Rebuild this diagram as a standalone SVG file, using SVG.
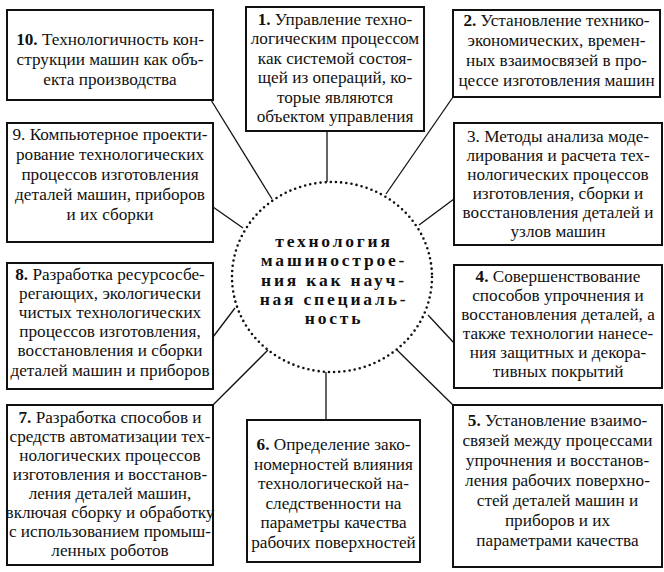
<svg xmlns="http://www.w3.org/2000/svg" width="664" height="572" viewBox="0 0 664 572">
<style>
.box{fill:#fff;stroke:#111;stroke-width:2}
.t{font-family:"Liberation Serif","Times New Roman",serif;font-size:17.2px;fill:#111;text-anchor:middle}
.b{font-weight:bold}
.c{font-family:"Liberation Serif","Times New Roman",serif;font-size:17.5px;font-weight:bold;letter-spacing:2.8px;fill:#111;text-anchor:middle}
.ln{stroke:#111;stroke-width:1.3;fill:none}
.dot{fill:#fff;stroke:#111;stroke-width:2.6;stroke-linecap:round;stroke-dasharray:0 5.2}
</style>
<rect width="664" height="572" fill="#fff"/>
<g id="connectors">
<line class="ln" x1="211" y1="100" x2="272" y2="199"/>
<line class="ln" x1="327" y1="131" x2="327" y2="182"/>
<line class="ln" x1="453" y1="97" x2="386" y2="194"/>
<line class="ln" x1="213" y1="207" x2="243" y2="228"/>
<line class="ln" x1="454" y1="199" x2="419" y2="225"/>
<line class="ln" x1="213" y1="337" x2="235" y2="308"/>
<line class="ln" x1="454" y1="343" x2="428" y2="315"/>
<line class="ln" x1="213" y1="405" x2="268" y2="350"/>
<line class="ln" x1="326" y1="372" x2="326" y2="420"/>
<line class="ln" x1="453" y1="405" x2="397" y2="350"/>
</g>
<g id="center">
<ellipse class="dot" cx="332" cy="277" rx="100" ry="95"/>
<text class="c" x="334" y="247">технология</text>
<text class="c" x="334" y="266">машинострое-</text>
<text class="c" x="334" y="286">ния как науч-</text>
<text class="c" x="334" y="305">ная специаль-</text>
<text class="c" x="334" y="324">ность</text>
</g>
<g id="n10">
<rect class="box" x="7" y="10" width="206" height="90"/>
<text class="t" x="110" y="45"><tspan class="b">10.</tspan> Технологичность кон-</text>
<text class="t" x="110" y="65">струкции машин как объ-</text>
<text class="t" x="110" y="85">екта производства</text>
</g>
<g id="n1">
<rect class="box" x="246" y="7" width="178" height="124"/>
<text class="t" x="335" y="25"><tspan class="b">1.</tspan> Управление техно-</text>
<text class="t" x="335" y="44.4">логическим процессом</text>
<text class="t" x="335" y="63.8">как системой состоя-</text>
<text class="t" x="335" y="83.2">щей из операций, ко-</text>
<text class="t" x="335" y="102.6">торые являются</text>
<text class="t" x="335" y="122">объектом управления</text>
</g>
<g id="n2">
<rect class="box" x="453" y="10" width="207" height="87"/>
<text class="t" x="556.5" y="26"><tspan class="b">2.</tspan> Установление технико-</text>
<text class="t" x="556.5" y="46">экономических, времен-</text>
<text class="t" x="556.5" y="66">ных взаимосвязей в про-</text>
<text class="t" x="556.5" y="86">цессе изготовления машин</text>
</g>
<g id="n9">
<rect class="box" x="7" y="123" width="206" height="119"/>
<text class="t" x="110" y="140">9. Компьютерное проекти-</text>
<text class="t" x="110" y="160">рование технологических</text>
<text class="t" x="110" y="180">процессов изготовления</text>
<text class="t" x="110" y="200">деталей машин, приборов</text>
<text class="t" x="110" y="220">и их сборки</text>
</g>
<g id="n3">
<rect class="box" x="454" y="123" width="208" height="122"/>
<text class="t" x="558" y="142">3. Методы анализа моде-</text>
<text class="t" x="558" y="161">лирования и расчета тех-</text>
<text class="t" x="558" y="180">нологических процессов</text>
<text class="t" x="558" y="199">изготовления, сборки и</text>
<text class="t" x="558" y="218">восстановления деталей и</text>
<text class="t" x="558" y="237">узлов машин</text>
</g>
<g id="n8">
<rect class="box" x="7" y="263" width="206" height="126"/>
<text class="t" x="110" y="280"><tspan class="b">8.</tspan> Разработка ресурсосбе-</text>
<text class="t" x="110" y="299">регающих, экологически</text>
<text class="t" x="110" y="318">чистых технологических</text>
<text class="t" x="110" y="337">процессов изготовления,</text>
<text class="t" x="110" y="356">восстановления и сборки</text>
<text class="t" x="110" y="376">деталей машин и приборов</text>
</g>
<g id="n4">
<rect class="box" x="454" y="265" width="208" height="123"/>
<text class="t" x="558" y="282"><tspan class="b">4.</tspan> Совершенствование</text>
<text class="t" x="558" y="301">способов упрочнения и</text>
<text class="t" x="558" y="320">восстановления деталей, а</text>
<text class="t" x="558" y="339">также технологии нанесе-</text>
<text class="t" x="558" y="358">ния защитных и декора-</text>
<text class="t" x="558" y="377">тивных покрытий</text>
</g>
<g id="n7">
<rect class="box" x="7" y="405" width="206" height="160"/>
<text class="t" x="110" y="423"><tspan class="b">7.</tspan> Разработка способов и</text>
<text class="t" x="110" y="442">средств автоматизации тех-</text>
<text class="t" x="110" y="461">нологических процессов</text>
<text class="t" x="110" y="480">изготовления и восстанов-</text>
<text class="t" x="110" y="499">ления деталей машин,</text>
<text class="t" x="110" y="518">включая сборку и обработку</text>
<text class="t" x="110" y="537">с использованием промыш-</text>
<text class="t" x="110" y="556">ленных роботов</text>
</g>
<g id="n6">
<rect class="box" x="247" y="420" width="173" height="142"/>
<text class="t" x="333.5" y="450"><tspan class="b">6.</tspan> Определение зако-</text>
<text class="t" x="333.5" y="469.6">номерностей влияния</text>
<text class="t" x="333.5" y="489.2">технологической на-</text>
<text class="t" x="333.5" y="508.8">следственности на</text>
<text class="t" x="333.5" y="528.4">параметры  качества</text>
<text class="t" x="333.5" y="548">рабочих поверхностей</text>
</g>
<g id="n5">
<rect class="box" x="453" y="405" width="209" height="162"/>
<text class="t" x="557.5" y="426"><tspan class="b">5.</tspan> Установление  взаимо-</text>
<text class="t" x="557.5" y="446">связей между процессами</text>
<text class="t" x="557.5" y="466">упрочнения и восстанов-</text>
<text class="t" x="557.5" y="486">ления рабочих поверхно-</text>
<text class="t" x="557.5" y="506">стей деталей машин и</text>
<text class="t" x="557.5" y="526">приборов и их</text>
<text class="t" x="557.5" y="546">параметрами качества</text>
</g>
</svg>
